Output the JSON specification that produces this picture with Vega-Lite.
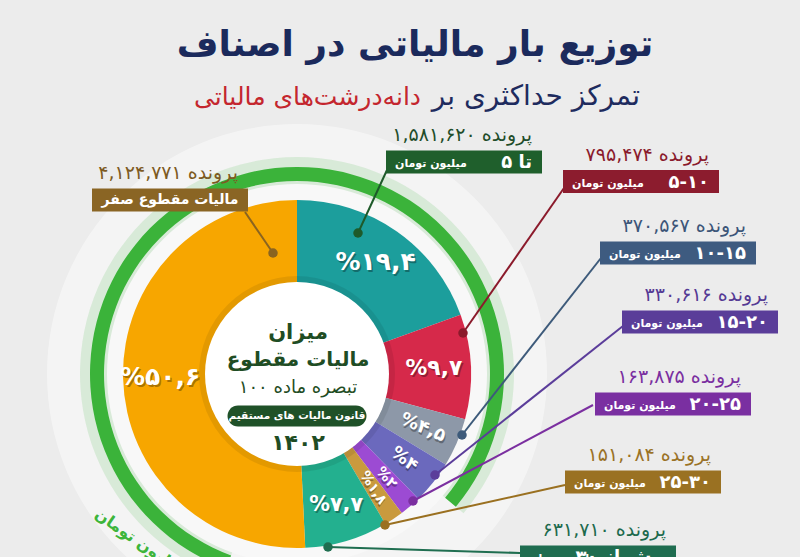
{
  "$schema": "https://vega.github.io/schema/vega-lite/v6.json",
  "width": 594,
  "height": 366,
  "autosize": {"type": "none"},
  "padding": {"left": 0, "top": 191, "right": 206, "bottom": 0},
  "background": "#ececec",
  "config": {"view": {"stroke": null}, "text": {"font": "DejaVu Sans"}},
  "data": {"values": [
    {"rank": 1, "bracket": "تا ۵", "count": 1581620, "share": 19.4, "pct": "%۱۹,۴", "files": "\u200e۱,۵۸۱,۶۲۰ پرونده"},
    {"rank": 2, "bracket": "۵-۱۰", "count": 795474, "share": 9.7, "pct": "%۹,۷", "files": "\u200e۷۹۵,۴۷۴ پرونده"},
    {"rank": 3, "bracket": "۱۰-۱۵", "count": 370567, "share": 4.5, "pct": "%۴,۵", "files": "\u200e۳۷۰,۵۶۷ پرونده"},
    {"rank": 4, "bracket": "۱۵-۲۰", "count": 330616, "share": 4.0, "pct": "%۴", "files": "\u200e۳۳۰,۶۱۶ پرونده"},
    {"rank": 5, "bracket": "۲۰-۲۵", "count": 163875, "share": 2.0, "pct": "%۲", "files": "\u200e۱۶۳,۸۷۵ پرونده"},
    {"rank": 6, "bracket": "۲۵-۳۰", "count": 151084, "share": 1.8, "pct": "%۱,۸", "files": "\u200e۱۵۱,۰۸۴ پرونده"},
    {"rank": 7, "bracket": "بیش از ۳۰", "count": 631710, "share": 7.7, "pct": "%۷,۷", "files": "\u200e۶۳۱,۷۱۰ پرونده"},
    {"rank": 8, "bracket": "مالیات مقطوع صفر", "count": 4124771, "share": 50.6, "pct": "%۵۰,۶", "files": "\u200e۴,۱۲۴,۷۷۱ پرونده"}
  ]},
  "resolve": {"scale": {"x": "independent", "y": "independent", "color": "independent", "size": "independent", "angle": "independent"}},
  "layer": [
    {
      "transform": [{"aggregate": [{"op": "sum", "field": "count", "as": "total"}]}],
      "mark": {"type": "arc", "theta": 0, "theta2": 6.2832, "radius": 250, "radius2": 0, "fill": "#ffffff", "opacity": 0.45},
      "encoding": {}
    },
    {
      "transform": [{"aggregate": [{"op": "sum", "field": "count", "as": "total"}]}],
      "mark": {"type": "arc", "theta": 3.49, "theta2": 8.55, "radius": 217, "radius2": 183, "fill": "#3db53b", "opacity": 0.15},
      "encoding": {}
    },
    {
      "transform": [{"aggregate": [{"op": "sum", "field": "count", "as": "total"}]}],
      "mark": {"type": "arc", "theta": 3.49, "theta2": 8.55, "radius": 207, "radius2": 193, "fill": "#3bb33a"},
      "encoding": {}
    },
    {
      "transform": [{"aggregate": [{"op": "sum", "field": "count", "as": "total"}]}],
      "mark": {"type": "arc", "theta": 0, "theta2": 6.2832, "radius": 190, "radius2": 0, "fill": "#f8f8f8"},
      "encoding": {}
    },
    {
      "mark": {"type": "arc", "radius": 174},
      "encoding": {
        "theta": {"field": "share", "type": "quantitative", "stack": true},
        "order": {"field": "rank", "type": "quantitative"},
        "color": {"field": "rank", "type": "ordinal", "legend": null,
          "scale": {"domain": [1, 2, 3, 4, 5, 6, 7, 8], "range": ["#1c9e9c", "#d6294a", "#8d98a8", "#6b69bd", "#9c4bd3", "#c99a3e", "#23b08f", "#f7a600"]}}
      }
    },
    {
      "layer": [
        {
          "mark": {"type": "rule", "strokeWidth": 2},
          "encoding": {
            "x": {"field": "rank", "type": "quantitative", "axis": null,
              "scale": {"domain": [1, 2, 3, 4, 5, 6, 7, 8, 151084, 163875, 330616, 370567, 631710, 795474, 1581620, 4124771], "range": [387, 564, 601, 623, 593, 565, 520, 245, 385, 413, 435, 462, 328, 463, 358, 273], "zero": false, "nice": false}},
            "x2": {"field": "count"},
            "y": {"field": "rank", "type": "quantitative", "axis": null,
              "scale": {"domain": [1, 2, 3, 4, 5, 6, 7, 8, 151084, 163875, 330616, 370567, 631710, 795474, 1581620, 4124771], "range": [-21, -3, 67, 135, 214, 294, 362, 21, 334, 310, 284, 244, 356, 142, 42, 62], "zero": false, "nice": false}},
            "y2": {"field": "count"},
            "color": {"field": "rank", "type": "ordinal", "legend": null,
              "scale": {"domain": [1, 2, 3, 4, 5, 6, 7, 8], "range": ["#1e5a2a", "#8b1a2b", "#3d5a7a", "#5b3d9a", "#7b2fa0", "#9a7020", "#1f6e50", "#8a6420"]}}
          }
        },
        {
          "mark": {"type": "point", "shape": "circle", "filled": true, "opacity": 1, "size": 90},
          "encoding": {
            "x": {"field": "count", "type": "quantitative", "axis": null,
              "scale": {"domain": [1, 2, 3, 4, 5, 6, 7, 8, 151084, 163875, 330616, 370567, 631710, 795474, 1581620, 4124771], "range": [387, 564, 601, 623, 593, 565, 520, 245, 385, 413, 435, 462, 328, 463, 358, 273], "zero": false, "nice": false}},
            "y": {"field": "count", "type": "quantitative", "axis": null,
              "scale": {"domain": [1, 2, 3, 4, 5, 6, 7, 8, 151084, 163875, 330616, 370567, 631710, 795474, 1581620, 4124771], "range": [-21, -3, 67, 135, 214, 294, 362, 21, 334, 310, 284, 244, 356, 142, 42, 62], "zero": false, "nice": false}},
            "color": {"field": "rank", "type": "ordinal", "legend": null,
              "scale": {"domain": [1, 2, 3, 4, 5, 6, 7, 8], "range": ["#1e5a2a", "#8b1a2b", "#3d5a7a", "#5b3d9a", "#7b2fa0", "#9a7020", "#1f6e50", "#8a6420"]}}
          }
        }
      ]
    },
    {
      "transform": [{"aggregate": [{"op": "sum", "field": "count", "as": "total"}]}],
      "mark": {"type": "arc", "theta": 0, "theta2": 6.2832, "radius": 98, "radius2": 0, "fill": "#000000", "opacity": 0.08},
      "encoding": {}
    },
    {
      "transform": [{"aggregate": [{"op": "sum", "field": "count", "as": "total"}]}],
      "mark": {"type": "arc", "theta": 0, "theta2": 6.2832, "radius": 92, "radius2": 0, "fill": "#ffffff"},
      "encoding": {}
    },
    {
      "mark": {"type": "text", "radius": 137, "fontWeight": "bold", "color": "#000000", "opacity": 0.3, "dx": 1.5, "dy": 2},
      "encoding": {
        "theta": {"field": "share", "type": "quantitative", "stack": true},
        "order": {"field": "rank", "type": "quantitative"},
        "text": {"field": "pct"},
        "size": {"field": "share", "type": "quantitative", "legend": null, "scale": {"type": "log", "domain": [1.8, 19.4], "range": [14, 25], "clamp": true}},
        "angle": {"field": "rank", "type": "quantitative", "legend": null, "scale": {"domain": [1, 2, 3, 4, 5, 6, 7, 8], "range": [0, 0, 23, 38, 49, 56, 0, 0], "zero": false, "nice": false}}
      }
    },
    {
      "mark": {"type": "text", "radius": 137, "fontWeight": "bold", "color": "#ffffff"},
      "encoding": {
        "theta": {"field": "share", "type": "quantitative", "stack": true},
        "order": {"field": "rank", "type": "quantitative"},
        "text": {"field": "pct"},
        "size": {"field": "share", "type": "quantitative", "legend": null, "scale": {"type": "log", "domain": [1.8, 19.4], "range": [14, 25], "clamp": true}},
        "angle": {"field": "rank", "type": "quantitative", "legend": null, "scale": {"domain": [1, 2, 3, 4, 5, 6, 7, 8], "range": [0, 0, 23, 38, 49, 56, 0, 0], "zero": false, "nice": false}}
      }
    },
    {
      "transform": [{"aggregate": [{"op": "sum", "field": "count", "as": "total"}]}],
      "mark": {"type": "text", "text": "میزان", "fontSize": 21, "fontWeight": "bold", "color": "#1f4d24", "dx": 1, "dy": -41},
      "encoding": {}
    },
    {
      "transform": [{"aggregate": [{"op": "sum", "field": "count", "as": "total"}]}],
      "mark": {"type": "text", "text": "مالیات مقطوع", "fontSize": 20, "fontWeight": "bold", "color": "#1f4d24", "dx": 1, "dy": -14},
      "encoding": {}
    },
    {
      "transform": [{"aggregate": [{"op": "sum", "field": "count", "as": "total"}]}],
      "mark": {"type": "text", "text": "تبصره ماده ۱۰۰", "fontSize": 18, "color": "#1f4d24", "dx": 1, "dy": 14},
      "encoding": {}
    },
    {
      "transform": [{"aggregate": [{"op": "sum", "field": "count", "as": "total"}]}],
      "mark": {"type": "point", "shape": "M-0.849,-0.151L0.849,-0.151A0.151,0.151 0 0 1 0.849,0.151L-0.849,0.151A0.151,0.151 0 0 1 -0.849,-0.151Z", "size": 19321, "filled": true, "opacity": 1, "color": "#1f5128", "yOffset": 42},
      "encoding": {}
    },
    {
      "transform": [{"aggregate": [{"op": "sum", "field": "count", "as": "total"}]}],
      "mark": {"type": "text", "text": "قانون مالیات های مستقیم", "fontSize": 10.5, "fontWeight": "bold", "color": "#ffffff", "dy": 42},
      "encoding": {}
    },
    {
      "transform": [{"aggregate": [{"op": "sum", "field": "count", "as": "total"}]}],
      "mark": {"type": "text", "text": "۱۴۰۲", "fontSize": 22, "fontWeight": "bold", "color": "#1f4d24", "dx": 1, "dy": 69},
      "encoding": {}
    },
    {
      "mark": {"type": "point", "shape": "M-1,-0.147L1,-0.147L1,0.147L-1,0.147Z", "size": 24336, "filled": true, "opacity": 1},
      "encoding": {
        "x": {"field": "rank", "type": "quantitative", "axis": null, "scale": {"domain": [1, 2, 3, 4, 5, 6, 7, 8], "range": [464, 641, 678, 700, 673, 643, 598, 170], "zero": false, "nice": false}},
        "y": {"field": "rank", "type": "quantitative", "axis": null, "scale": {"domain": [1, 2, 3, 4, 5, 6, 7, 8], "range": [-29, -9.5, 62, 131, 213, 291, 366, 9], "zero": false, "nice": false}},
        "color": {"field": "rank", "type": "ordinal", "legend": null,
          "scale": {"domain": [1, 2, 3, 4, 5, 6, 7, 8], "range": ["#1f5f2c", "#8c1c2e", "#3e5b80", "#5a3d99", "#7a2fa1", "#9a7122", "#1f6d50", "#8a6524"]}}
      }
    },
    {
      "mark": {"type": "text", "align": "right", "dx": 68, "dy": -27, "fontSize": 19},
      "encoding": {
        "x": {"field": "rank", "type": "quantitative", "axis": null, "scale": {"domain": [1, 2, 3, 4, 5, 6, 7, 8], "range": [464, 641, 678, 700, 673, 643, 598, 170], "zero": false, "nice": false}},
        "y": {"field": "rank", "type": "quantitative", "axis": null, "scale": {"domain": [1, 2, 3, 4, 5, 6, 7, 8], "range": [-29, -9.5, 62, 131, 213, 291, 366, 9], "zero": false, "nice": false}},
        "text": {"field": "files"},
        "color": {"field": "rank", "type": "ordinal", "legend": null,
          "scale": {"domain": [1, 2, 3, 4, 5, 6, 7, 8], "range": ["#1f4d2a", "#8a1b2c", "#3c5578", "#553a94", "#7a2fa0", "#9a7226", "#1d6a4c", "#7d5a22"]}}
      }
    },
    {
      "transform": [{"filter": "datum.rank < 8"}],
      "mark": {"type": "text", "align": "right", "dx": 68, "dy": 1, "fontSize": 18, "fontWeight": "bold", "color": "#ffffff"},
      "encoding": {
        "x": {"field": "rank", "type": "quantitative", "axis": null, "scale": {"domain": [1, 2, 3, 4, 5, 6, 7, 8], "range": [464, 641, 678, 700, 673, 643, 598, 170], "zero": false, "nice": false}},
        "y": {"field": "rank", "type": "quantitative", "axis": null, "scale": {"domain": [1, 2, 3, 4, 5, 6, 7, 8], "range": [-29, -9.5, 62, 131, 213, 291, 366, 9], "zero": false, "nice": false}},
        "text": {"field": "bracket"}
      }
    },
    {
      "transform": [{"filter": "datum.rank < 8"}],
      "mark": {"type": "text", "align": "left", "dx": -69, "dy": 2, "fontSize": 11, "fontWeight": "bold", "color": "#ffffff", "text": "میلیون تومان"},
      "encoding": {
        "x": {"field": "rank", "type": "quantitative", "axis": null, "scale": {"domain": [1, 2, 3, 4, 5, 6, 7, 8], "range": [464, 641, 678, 700, 673, 643, 598, 170], "zero": false, "nice": false}},
        "y": {"field": "rank", "type": "quantitative", "axis": null, "scale": {"domain": [1, 2, 3, 4, 5, 6, 7, 8], "range": [-29, -9.5, 62, 131, 213, 291, 366, 9], "zero": false, "nice": false}}
      }
    },
    {
      "transform": [{"filter": "datum.rank == 8"}],
      "mark": {"type": "text", "align": "center", "dy": 0, "fontSize": 14, "fontWeight": "bold", "color": "#ffffff"},
      "encoding": {
        "x": {"field": "rank", "type": "quantitative", "axis": null, "scale": {"domain": [1, 2, 3, 4, 5, 6, 7, 8], "range": [464, 641, 678, 700, 673, 643, 598, 170], "zero": false, "nice": false}},
        "y": {"field": "rank", "type": "quantitative", "axis": null, "scale": {"domain": [1, 2, 3, 4, 5, 6, 7, 8], "range": [-29, -9.5, 62, 131, 213, 291, 366, 9], "zero": false, "nice": false}},
        "text": {"field": "bracket"}
      }
    },
    {
      "transform": [{"aggregate": [{"op": "sum", "field": "count", "as": "total"}]}],
      "mark": {"type": "text", "text": "توزیع بار مالیاتی در اصناف", "fontSize": 36, "fontWeight": "bold", "color": "#1b2a5c", "dx": 118, "dy": -329},
      "encoding": {}
    },
    {
      "transform": [{"aggregate": [{"op": "sum", "field": "count", "as": "total"}]}],
      "mark": {"type": "text", "text": "تمرکز حداکثری بر", "fontSize": 28, "align": "right", "color": "#1e2b5e", "dx": 343, "dy": -277},
      "encoding": {}
    },
    {
      "transform": [{"aggregate": [{"op": "sum", "field": "count", "as": "total"}]}],
      "mark": {"type": "text", "text": "دانه‌درشت‌های مالیاتی", "fontSize": 25, "align": "right", "color": "#c4262e", "dx": 124, "dy": -277},
      "encoding": {}
    },
    {
      "transform": [{"aggregate": [{"op": "sum", "field": "count", "as": "total"}]}],
      "mark": {"type": "text", "text": "میلیون تومان", "theta": 4.12, "radius": 236, "angle": 35, "align": "left", "baseline": "top", "fontSize": 16, "fontWeight": "bold", "color": "#3db53b"},
      "encoding": {}
    }
  ]
}
